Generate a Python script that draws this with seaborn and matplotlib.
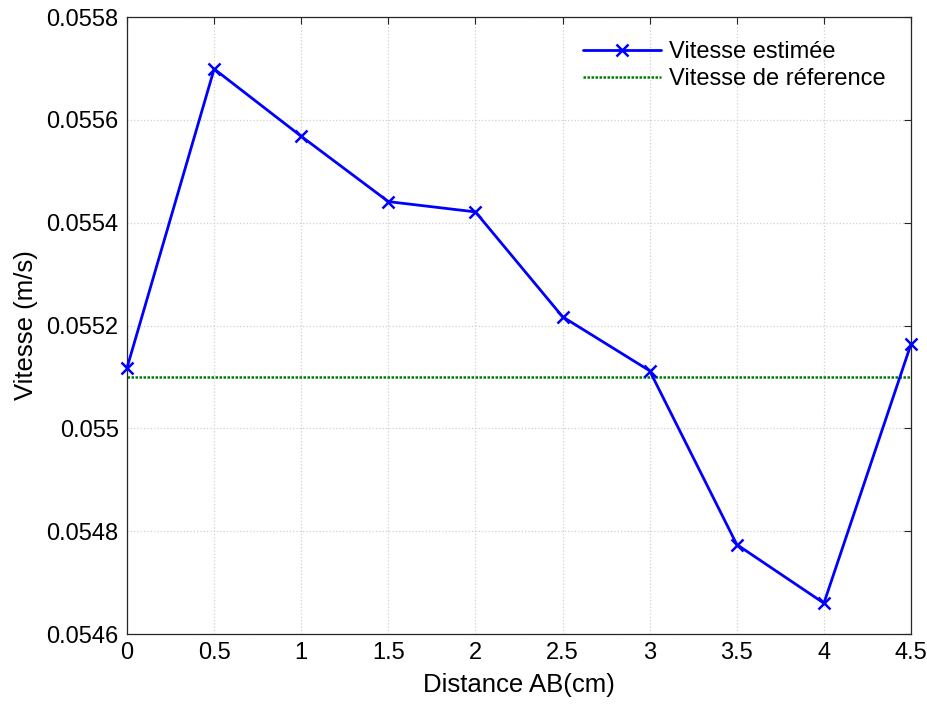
import numpy as np
import pandas as pd
import matplotlib
matplotlib.use("Agg")
import matplotlib.pyplot as plt
import seaborn as sns

# Data
distance = [0, 0.5, 1, 1.5, 2, 2.5, 3, 3.5, 4, 4.5]
vitesse = [0.055118, 0.055699, 0.055568, 0.055441, 0.055421,
           0.055217, 0.055112, 0.054774, 0.054660, 0.055164]
vitesse_ref = 0.0551
xticks = [0, 0.5, 1, 1.5, 2, 2.5, 3, 3.5, 4, 4.5]
xtick_labels = ["0", "0.5", "1", "1.5", "2", "2.5", "3", "3.5", "4", "4.5"]
yticks = [0.0546, 0.0548, 0.055, 0.0552, 0.0554, 0.0556, 0.0558]
ytick_labels = ["0.0546", "0.0548", "0.055", "0.0552", "0.0554", "0.0556", "0.0558"]

df = pd.DataFrame({"Distance": distance, "Vitesse": vitesse})

sns.set_style("white")
plt.rcParams["font.family"] = ["Liberation Sans", "DejaVu Sans"]
plt.rcParams["text.color"] = "black"
plt.rcParams["axes.labelcolor"] = "black"

fig = plt.figure(figsize=(9.28, 7.04), dpi=100)
# axes: x 127..911 px, y 17..634 px
ax = fig.add_axes([0.1369, 0.0994, 0.8448, 0.8764])

sns.lineplot(data=df, x="Distance", y="Vitesse", ax=ax, color="#0000ff",
             linewidth=2.0, marker="x", markersize=8.5,
             markeredgecolor="#0000ff", markeredgewidth=1.8,
             label="Vitesse estimée", clip_on=False, zorder=3)
ax.axhline(vitesse_ref, color="#008000", linestyle=(0, (1, 0.6)), linewidth=1.8,
           label="Vitesse de réference", zorder=2)

ax.set_xlim(0, 4.5)
ax.set_ylim(0.0546, 0.0558)
ax.set_xticks(xticks)
ax.set_xticklabels(xtick_labels)
ax.set_yticks(yticks)
ax.set_yticklabels(ytick_labels)

ax.grid(True, color="#d0d0d0", linestyle=":", linewidth=0.9)
ax.tick_params(direction="in", length=5, width=0.8, labelsize=17,
               top=True, right=True, colors="#262626", labelcolor="black")
ax.tick_params(axis="x", pad=6)
ax.tick_params(axis="y", pad=6)
for s in ax.spines.values():
    s.set_color("#262626")
    s.set_linewidth(0.9)

ax.set_xlabel("Distance AB(cm)", fontsize=18.5, labelpad=6)
ax.set_ylabel("Vitesse (m/s)", fontsize=18.5, labelpad=6)

ax.legend(loc="upper right", frameon=False, fontsize=17,
          handlelength=3.3, handletextpad=0.35, labelspacing=0.2,
          bbox_to_anchor=(0.995, 0.995))

plt.savefig("out.png", dpi=100)
